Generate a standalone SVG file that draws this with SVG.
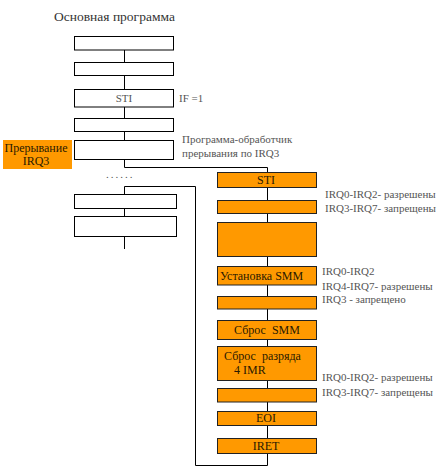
<svg xmlns="http://www.w3.org/2000/svg" width="443" height="468" viewBox="0 0 443 468">
<style>
.w{fill:#fff;stroke:#000;stroke-width:1}
.o{fill:#ff9900;stroke:#222;stroke-width:1}
text{font-family:"Liberation Serif","Times New Roman","DejaVu Serif",serif}
.t{font-size:12px;fill:#2a1a00}
.g{font-size:11px;fill:#555}
.h{font-size:13.5px;fill:#333}
.c{text-anchor:middle}
#conn path{fill:none;stroke:#000;stroke-width:1}
</style>
<rect width="443" height="468" fill="#fff"/>
<text class="h" x="54" y="21">Основная программа</text>
<g id="conn">
<path d="M124.5 50V62M124.5 75V89M124.5 107V118M124.5 131V140M124.5 159V167.5H267.5V172"/>
<path d="M124.5 194V186.5H195.5V465.5H267.5V453M124.5 208.5V216.5M124.5 236.5V249"/>
<path d="M267.5 187V200M267.5 213V222M267.5 256.5V266.5M267.5 285V296.5M267.5 309V320M267.5 339V346.5M267.5 380.5V388M267.5 402V411M267.5 425.5V438"/>
</g>
<g id="m1"><rect class="w" x="74.5" y="36.5" width="99" height="13.5"/></g>
<g id="m2"><rect class="w" x="74.5" y="62.5" width="99" height="13"/></g>
<g id="m3"><rect class="w" x="74.5" y="89.5" width="99" height="17.5"/><text class="g c" x="124" y="102">STI</text></g>
<text class="g" x="179" y="102">IF =1</text>
<g id="m4"><rect class="w" x="74.5" y="118.5" width="99" height="13"/></g>
<g id="m5"><rect class="w" x="74.5" y="140.5" width="99" height="19"/></g>
<g id="irq"><rect x="3" y="140" width="69" height="29" fill="#ff9900"/><text class="t c" x="36" y="151.5">Прерывание</text><text class="t c" x="36" y="165">IRQ3</text></g>
<text class="g" x="182" y="143">Программа-обработчик</text>
<text class="g" x="182" y="157">прерывания по IRQ3</text>
<text class="g" x="106" y="178" letter-spacing="2">......</text>
<g id="m6"><rect class="w" x="74.5" y="194.5" width="102" height="14"/></g>
<g id="m7"><rect class="w" x="74.5" y="216.5" width="102" height="20"/></g>
<g id="s1"><rect class="o" x="217.5" y="172.5" width="99" height="15"/><text class="t c" x="266" y="184">STI</text></g>
<g id="s2"><rect class="o" x="217.5" y="200.5" width="99" height="13"/></g>
<text class="g" x="325" y="198">IRQ0-IRQ2- разрешены</text>
<text class="g" x="325" y="212">IRQ3-IRQ7- запрещены</text>
<g id="s3"><rect class="o" x="217.5" y="222.5" width="99" height="34"/></g>
<g id="s4"><rect class="o" x="217.5" y="266.5" width="99" height="18.5"/><text class="t" x="220" y="280">Установка SMM</text></g>
<text class="g" x="322" y="275">IRQ0-IRQ2</text>
<text class="g" x="322" y="290">IRQ4-IRQ7- разрешены</text>
<text class="g" x="322" y="303">IRQ3 - запрещено</text>
<g id="s5"><rect class="o" x="217.5" y="296.5" width="99" height="12.5"/></g>
<g id="s6"><rect class="o" x="217.5" y="320.5" width="99" height="19"/><text class="t c" x="267" y="334" xml:space="preserve">Сброс  SMM</text></g>
<g id="s7"><rect class="o" x="217.5" y="346.5" width="99" height="34"/><text class="t" x="224" y="360" xml:space="preserve">Сброс  разряда</text><text class="t" x="234" y="374">4 IMR</text></g>
<text class="g" x="322" y="381">IRQ0-IRQ2- разрешены</text>
<text class="g" x="322" y="396">IRQ3-IRQ7- запрещены</text>
<g id="s8"><rect class="o" x="217.5" y="388.5" width="99" height="13.5"/></g>
<g id="s9"><rect class="o" x="217.5" y="411.5" width="99" height="14"/><text class="t c" x="266" y="422">EOI</text></g>
<g id="s10"><rect class="o" x="217.5" y="438.5" width="99" height="15"/><text class="t c" x="266" y="450">IRET</text></g>
</svg>
